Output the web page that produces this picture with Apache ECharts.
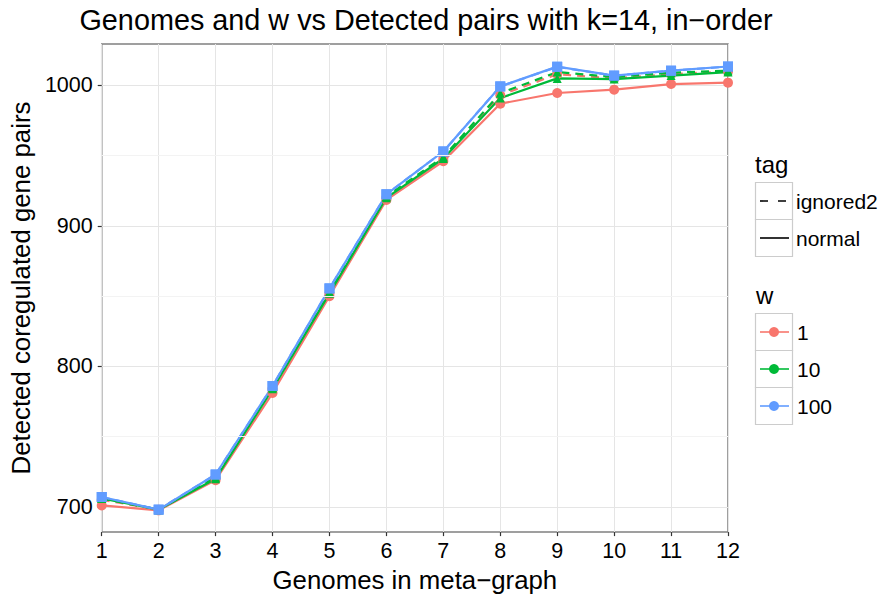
<!DOCTYPE html>
<html>
<head>
<meta charset="utf-8">
<script src="https://cdn.jsdelivr.net/npm/echarts@6/dist/echarts.min.js"></script>
<style>
  html, body { margin: 0; padding: 0; background: #fff; }
  #chart { width: 882px; height: 598px; }
</style>
</head>
<body>
<div id="chart"></div>
<script>
// Genomes in meta-graph (x) vs detected coregulated gene pairs (y)
const genomes = [1, 2, 3, 4, 5, 6, 7, 8, 9, 10, 11, 12];

// w = 1
const w1Normal   = [701, 697.5, 719, 781, 850, 918.5, 946, 987, 994.6, 997, 1001, 1002];
const w1Ignored  = [705, 698, 720.5, 784, 852, 920, 948, 993, 1008, 1005, 1008, 1010];
// w = 10
const w10Normal  = [706, 698, 720, 784, 852, 920, 948, 991, 1005, 1004.5, 1007, 1009.5];
const w10Ignored = [706, 698, 721, 785, 853, 921, 949, 994.5, 1009.5, 1006, 1009, 1010.5];
// w = 100
const w100Normal  = [707, 698, 723, 786, 855.5, 922.5, 953, 999.3, 1013.4, 1007, 1010.5, 1013.5];
const w100Ignored = [707, 698, 723, 786, 855.5, 922.5, 953, 999.3, 1013.2, 1007, 1010.5, 1013.4];

const yTicks = [700, 800, 900, 1000];
const yMinor = [750, 850, 950];

const wLevels = ['1', '10', '100'];
const tagLevels = ['ignored2', 'normal'];

const COLORS = { '1': '#F8766D', '10': '#00BA38', '100': '#619CFF' };
const SHAPES = { '1': 'circle', '10': 'triangle', '100': 'rect' };
const SIZES  = { '1': 10, '10': 9, '100': 10 };

const groups = [
  { w: '1',   tag: 'ignored2', values: w1Ignored },
  { w: '1',   tag: 'normal',   values: w1Normal },
  { w: '10',  tag: 'ignored2', values: w10Ignored },
  { w: '10',  tag: 'normal',   values: w10Normal },
  { w: '100', tag: 'ignored2', values: w100Ignored },
  { w: '100', tag: 'normal',   values: w100Normal }
];

const FONT = 'Liberation Sans';
const Y_MIN = 682, Y_MAX = 1029.5;

const pairs = vals => genomes.map((g, i) => [g, vals[i]]);

// lines first, then all point markers on top
const lineSeries = groups.map(g => ({
  type: 'line',
  name: g.w + ' ' + g.tag,
  data: pairs(g.values),
  symbol: 'none',
  silent: true,
  z: 3,
  lineStyle: {
    color: COLORS[g.w],
    width: 2.2,
    type: g.tag === 'ignored2' ? [8, 6] : 'solid'
  }
}));

const pointSeries = groups.map(g => ({
  type: 'scatter',
  name: g.w + ' ' + g.tag + ' pts',
  data: pairs(g.values),
  symbol: SHAPES[g.w],
  symbolSize: SIZES[g.w],
  silent: true,
  z: 4,
  itemStyle: { color: COLORS[g.w], opacity: 1 }
}));

// minor horizontal grid at 750/850/950
const minorGrid = {
  type: 'line',
  data: [],
  silent: true,
  z: 1,
  markLine: {
    silent: true,
    symbol: 'none',
    label: { show: false },
    lineStyle: { color: '#f3f3f3', width: 1, type: 'solid' },
    data: yMinor.map(v => ({ yAxis: v }))
  }
};

const chart = echarts.init(document.getElementById('chart'), null, { renderer: 'svg' });

// legend built from graphic primitives (keyed boxes)
const LX = 755, KEY = 37;
const legendEls = [];
function keyBox(top) {
  legendEls.push({
    type: 'rect', shape: { x: LX + 0.5, y: top + 0.5, width: KEY, height: KEY },
    style: { fill: '#fff', stroke: '#cccccc', lineWidth: 1.2 }
  });
}
function label(text, x, y, size) {
  legendEls.push({
    type: 'text', x: x, y: y,
    style: { text: text, fill: '#000', font: size + 'px "' + FONT + '"', verticalAlign: 'middle' }
  });
}
label('tag', LX, 164, 24);
tagLevels.forEach((t, i) => {
  const top = 182 + i * KEY;
  keyBox(top);
  legendEls.push({
    type: 'line',
    shape: { x1: LX + 5, y1: top + KEY / 2 + 0.5, x2: LX + KEY - 3, y2: top + KEY / 2 + 0.5 },
    style: { stroke: '#000', lineWidth: 1.6, lineDash: t === 'ignored2' ? [8, 10] : null }
  });
  label(t, LX + KEY + 4, top + KEY / 2 + 1, 21);
});
label('w', LX + 1, 295, 24);
wLevels.forEach((w, i) => {
  const top = 313 + i * KEY;
  keyBox(top);
  legendEls.push({
    type: 'line',
    shape: { x1: LX + 5, y1: top + KEY / 2 + 0.5, x2: LX + KEY - 3, y2: top + KEY / 2 + 0.5 },
    style: { stroke: COLORS[w], lineWidth: 1.6 }
  });
  legendEls.push({
    type: 'circle',
    shape: { cx: LX + 19, cy: top + KEY / 2 + 0.5, r: 5 },
    style: { fill: COLORS[w] }
  });
  label(w, LX + KEY + 5, top + KEY / 2 + 1, 21);
});

chart.setOption({
  animation: false,
  backgroundColor: '#ffffff',
  title: {
    text: 'Genomes and w vs Detected pairs with k=14, in\u2212order',
    left: 421, top: 0, textAlign: 'center',
    textStyle: { fontFamily: FONT, fontSize: 28.8, fontWeight: 'normal', color: '#000' }
  },
  grid: { left: 100, right: 154, top: 44, bottom: 64, show: true, borderColor: '#808080', borderWidth: 1.5, backgroundColor: '#fff' },
  xAxis: {
    type: 'value', min: 1, max: 12, interval: 1,
    name: 'Genomes in meta\u2212graph', nameLocation: 'middle', nameGap: 34,
    nameTextStyle: { fontFamily: FONT, fontSize: 25.8, color: '#000' },
    axisLine: { show: false },
    axisTick: { show: true, length: 4, lineStyle: { color: '#333', width: 1.2 } },
    axisLabel: { fontFamily: FONT, fontSize: 21.5, color: '#000', margin: 8 },
    splitLine: { show: true, lineStyle: { color: '#e5e5e5', width: 1 } }
  },
  yAxis: {
    type: 'value', min: Y_MIN, max: Y_MAX,
    name: 'Detected coregulated gene pairs', nameLocation: 'middle', nameGap: 65, nameRotate: 90,
    nameTextStyle: { fontFamily: FONT, fontSize: 25.8, color: '#000' },
    axisLine: { show: false },
    axisTick: { show: true, length: 4, customValues: yTicks, lineStyle: { color: '#333', width: 1.2 } },
    axisLabel: { fontFamily: FONT, fontSize: 21.5, color: '#000', margin: 9, customValues: yTicks, formatter: v => String(v) },
    splitLine: { show: true, lineStyle: { color: '#e5e5e5', width: 1 } }
  },
  graphic: legendEls,
  series: [minorGrid].concat(lineSeries, pointSeries)
});
</script>
</body>
</html>
